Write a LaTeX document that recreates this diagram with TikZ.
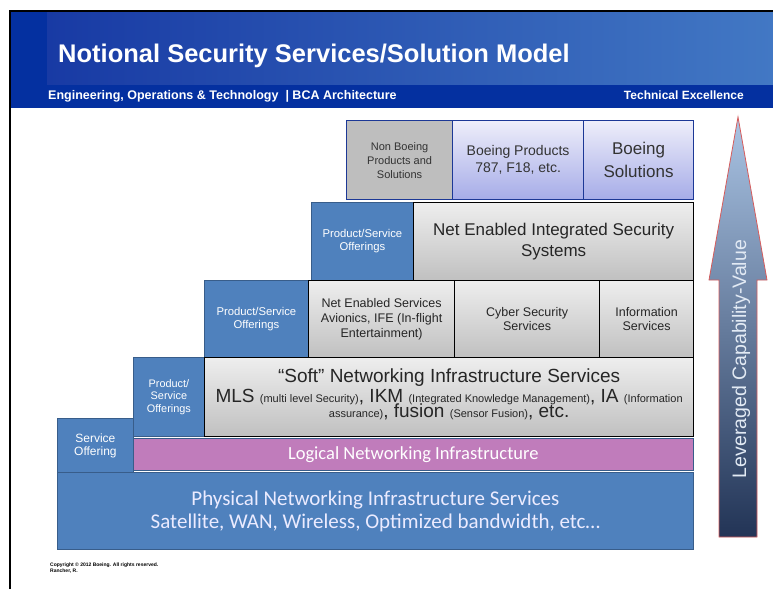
\documentclass[tikz,border=0pt]{standalone}
\usepackage{fontspec}
\setmainfont{Liberation Sans}
\newfontfamily\calfont{Carlito}
\newcommand{\fsz}[2]{\fontsize{#1}{#2}\selectfont}

\definecolor{hdrdark}{RGB}{4,48,160}
\definecolor{hdrleft}{RGB}{24,58,164}
\definecolor{hdrright}{RGB}{66,120,196}
\definecolor{offblue}{RGB}{79,129,189}
\definecolor{offedge}{RGB}{56,93,138}
\definecolor{logpink}{RGB}{192,124,187}
\definecolor{grytop}{RGB}{238,238,238}
\definecolor{grybot}{RGB}{192,192,192}
\definecolor{navyedge}{RGB}{28,56,150}
\definecolor{lavtop}{RGB}{238,238,250}
\definecolor{lavbot}{RGB}{166,172,232}
\definecolor{nongray}{RGB}{190,190,190}
\definecolor{arrtop}{RGB}{170,196,228}
\definecolor{arrmid}{RGB}{84,116,160}
\definecolor{arrbot}{RGB}{34,52,86}
\definecolor{arredge}{RGB}{214,92,92}
\definecolor{arrtxt}{RGB}{226,234,244}

\tikzset{
	cell/.style = {anchor = north west, inner sep = 1pt, align = center},
	sz/.style 2 args = {minimum width = #1pt, minimum height = #2pt},
	offer/.style = {cell, fill = offblue, draw = offedge, line width = 0.8pt, text = white},
	graybox/.style = {cell, top color = grytop, bottom color = grybot, draw = black, line width = 1.2pt, text = black!85},
	lavbox/.style = {cell, top color = lavtop, bottom color = lavbot, draw = navyedge, line width = 1.2pt, text = black!80}
}

\begin{document}
\begin{tikzpicture}[x = 1pt, y = -1pt]

\useasboundingbox (0,0) rectangle (773,589);

% header
\fill[hdrdark] (10,11) rectangle (773,108);
\shade[left color = hdrleft, right color = hdrright] (47,11) rectangle (773,84);
\draw[line width = 1.5pt] (10,589) -- (10,11) -- (773,11);

\node[anchor = base west, inner sep = 0, text = white, font = \bfseries\fsz{25.5}{28}] (title) at (58,62) {Notional Security Services/Solution Model};
\node[anchor = base west, inner sep = 0, text = white, font = \bfseries\fsz{12.5}{14}] (sub) at (48,99.5) {Engineering, Operations \& Technology~~| BCA Architecture};
\node[anchor = base east, inner sep = 0, text = white, font = \bfseries\fsz{12}{14}] (tech) at (744,99.5) {Technical Excellence};

% top row
\node[cell, sz = {106}{79}, fill = nongray, draw = navyedge, line width = 1.2pt, text = black!80, font = \fsz{11}{14}] (nonb) at (346,120) {Non Boeing\\Products and\\Solutions};
\node[lavbox, sz = {131}{79}, font = \fsz{14}{17}] (bprod) at (452,120) {Boeing Products\\787, F18, etc.};
\node[lavbox, sz = {110}{79}, font = \fsz{17}{23}] (bsol) at (583,120) {Boeing\\Solutions};

% second row
\node[offer, sz = {102}{78}, font = \fsz{11.3}{13}] (off2) at (311,202) {Product/Service\\Offerings};
\node[graybox, sz = {280}{78}, font = \fsz{17}{21}] (neiss) at (413,202) {Net Enabled Integrated Security\\Systems};

% third row
\node[offer, sz = {104}{77}, font = \fsz{11.3}{13}] (off3) at (204,280) {Product/Service\\Offerings};
\node[graybox, sz = {146}{77}, font = \fsz{12.5}{15}] (nes) at (308,280) {Net Enabled Services\\Avionics, IFE (In-flight\\Entertainment)};
\node[graybox, sz = {145}{77}, font = \fsz{12.5}{13.5}] (cyber) at (454,280) {Cyber Security\\Services};
\node[graybox, sz = {94}{77}, font = \fsz{12.5}{13.5}] (info) at (599,280) {Information\\Services};

% fourth row
\node[offer, sz = {71}{79}, font = \fsz{10.9}{12.5}] (off4) at (133,357) {Product/\\Service\\Offerings};
\node[graybox, sz = {489}{79}] (soft) at (204,357) {};
\node[align = center, inner sep = 0, text = black!85, font = \fsz{19}{22}] (softtxt) at ([yshift = 3pt]soft.center) {“Soft” Networking Infrastructure Services\\[-2pt]
MLS {\fsz{11}{11}(multi level Security)}, IKM {\fsz{11}{11}(Integrated Knowledge Management)}, IA {\fsz{11}{11}(Information}\\[-7pt]
{\fsz{11}{11}assurance)}, fusion {\fsz{11}{11}(Sensor Fusion)}, etc.};

% base
\node[offer, sz = {76}{54}, font = \fsz{12}{13}] (off5) at (57,418) {Service\\Offering};
\node[cell, sz = {560}{32}, fill = logpink, draw = offedge, line width = 0.6pt, text = white, font = \calfont\fsz{18.5}{20}] (logic) at (133,438) {Logical Networking Infrastructure};
\node[offer, sz = {636}{77}, text = white!92!blue, font = \calfont\fsz{21}{23}] (phys) at (57,472) {Physical Networking Infrastructure Services\\Satellite, WAN, Wireless, Optimized bandwidth, etc…};

% value arrow
\shade[top color = arrtop, middle color = arrmid, bottom color = arrbot, draw = arredge, line width = 0.8pt]
	(719,537) -- (719,280) -- (709,280) -- (738,117) -- (767,280) -- (757,280) -- (757,537) -- cycle;
\node[rotate = 90, inner sep = 0, text = arrtxt, font = \fsz{19.5}{22}] (lev) at (741,359) {Leveraged Capability-Value};

% footer
\node[anchor = north west, inner sep = 0, align = left, font = \bfseries\fsz{5}{6}] (copy) at (50,563) {Copyright © 2012 Boeing. All rights reserved.\\Rancher, R.};

\end{tikzpicture}
\end{document}
